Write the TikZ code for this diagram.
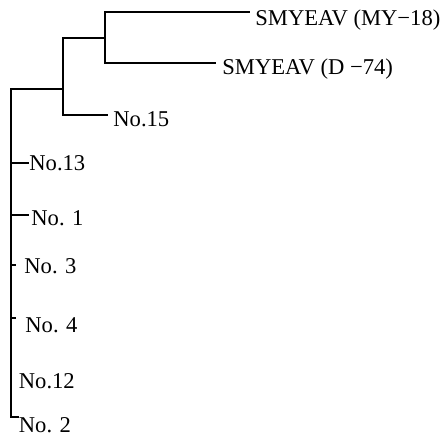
\documentclass[tikz,border=0pt]{standalone}
\usepackage{fontspec}
\setmainfont{Liberation Serif}
\begin{document}
\begin{tikzpicture}[x=0.5pt,y=-0.5pt,
  branch/.style={line width=1.2pt,line cap=rect},
  leaf/.style={anchor=base west,inner sep=0pt,font=\fontsize{11.3pt}{13pt}\selectfont}]
\useasboundingbox (0,0) rectangle (444,438);
% junctions of the tree
\coordinate (root) at (11,89);
\coordinate (j1) at (63,89);
\coordinate (j1top) at (63,38);
\coordinate (j1bot) at (63,115);
\coordinate (j2mid) at (105,38);
\coordinate (j2top) at (105,12);
\coordinate (j2bot) at (105,63);
% branch tips
\coordinate (tMY) at (249,12);
\coordinate (tD) at (215,63);
\coordinate (t15) at (107,115);
\coordinate (t13) at (28,163);
\coordinate (r13) at (11,163);
\coordinate (t1) at (28,215);
\coordinate (r1) at (11,215);
\coordinate (t3) at (15,265);
\coordinate (r3) at (11,265);
\coordinate (t4) at (15,318);
\coordinate (r4) at (11,318);
\coordinate (rbot) at (11,417);
\coordinate (t2) at (18,417);
% leaf labels
\node[leaf] (my18) at (255,26) {SMYEAV (MY−18)};
\node[leaf] (d74) at (222,75) {SMYEAV (D −74)};
\node[leaf] (n15) at (113,127) {No.15};
\node[leaf] (n13) at (29,171) {No.13};
\node[leaf] (n1) at (31,226) {No. 1};
\node[leaf] (n3) at (24,273) {No. 3};
\node[leaf] (n4) at (25,332) {No. 4};
\node[leaf] (n12) at (18.5,388) {No.12};
\node[leaf] (n2) at (18.5,432) {No. 2};
% branches
\draw[branch] (rbot) -- (root) -- (j1);
\draw[branch] (j1top) -- (j1bot) -- (t15);
\draw[branch] (j1top) -- (j2mid);
\draw[branch] (tMY) -- (j2top) -- (j2bot) -- (tD);
\draw[branch] (r13) -- (t13);
\draw[branch] (r1) -- (t1);
\draw[branch] (r3) -- (t3);
\draw[branch] (r4) -- (t4);
\draw[branch] (rbot) -- (t2);
\end{tikzpicture}
\end{document}
